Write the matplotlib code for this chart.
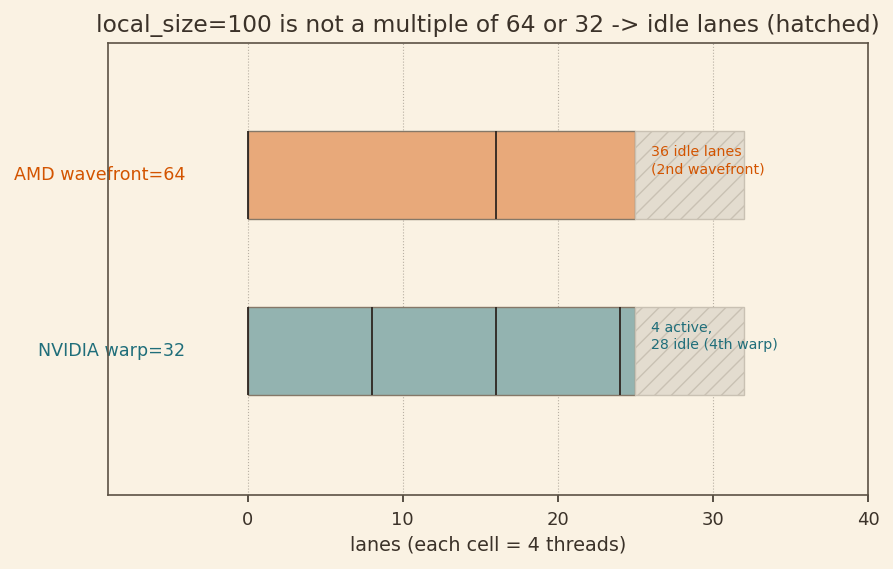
import matplotlib
matplotlib.use("Agg")
from matplotlib import pyplot as plt

# data: lanes (cells of 4 threads)
rows = ["NVIDIA warp=32", "AMD wavefront=64"]
active_cells = [25, 25]
total_cells = [32, 32]
group_bounds = [[0, 8, 16, 24], [0, 16]]
notes = ["4 active,\n28 idle (4th warp)", "36 idle lanes\n(2nd wavefront)"]
fills = ["#93b3b0", "#e8a97a"]
text_colors = ["#1f6e7a", "#d35400"]

BG = "#faf2e3"
INK = "#3b3229"
plt.rcParams["hatch.color"] = "#c9c1b3"

fig, ax = plt.subplots(figsize=(8.93, 5.69), dpi=100)
fig.patch.set_facecolor(BG)
ax.set_facecolor(BG)

for i, name in enumerate(rows):
    ax.barh(i, active_cells[i], left=0, height=0.5, color=fills[i],
            edgecolor="#857868", linewidth=1, zorder=2)
    ax.barh(i, total_cells[i] - active_cells[i], left=active_cells[i], height=0.5,
            color="#e3dccf", edgecolor="#c9c1b3", hatch="//", linewidth=1, zorder=2)
    ax.vlines(group_bounds[i], i - 0.25, i + 0.25, color="#2e2620", linewidth=1.3, zorder=3)
    ax.text(active_cells[i] + 1, i + 0.08, notes[i], color=text_colors[i],
            fontsize=10.2, va="center", ha="left", linespacing=1.3, zorder=4)
    ax.text(-4, i, name, color=text_colors[i], fontsize=12.6, ha="right", va="center", zorder=1)

ax.set_xlim(-9, 40)
ax.set_ylim(-0.82, 1.75)
ax.set_yticks([])
ax.set_xticks([0, 10, 20, 30, 40])
ax.tick_params(axis="x", colors=INK, labelsize=13, length=5, width=1.2, pad=6.5)
ax.grid(axis="x", linestyle=":", color="#b8b0a3", linewidth=0.8)
ax.set_axisbelow(True)
for s in ax.spines.values():
    s.set_color("#5c5245")
    s.set_linewidth(1.2)
ax.set_xlabel("lanes (each cell = 4 threads)", color=INK, fontsize=13.8, labelpad=5)
ax.set_title("local_size=100 is not a multiple of 64 or 32 -> idle lanes (hatched)",
             color=INK, fontsize=16.8, pad=8)

fig.subplots_adjust(left=0.121, right=0.972, top=0.924, bottom=0.13)
fig.savefig("out.png", dpi=100, facecolor=BG)
